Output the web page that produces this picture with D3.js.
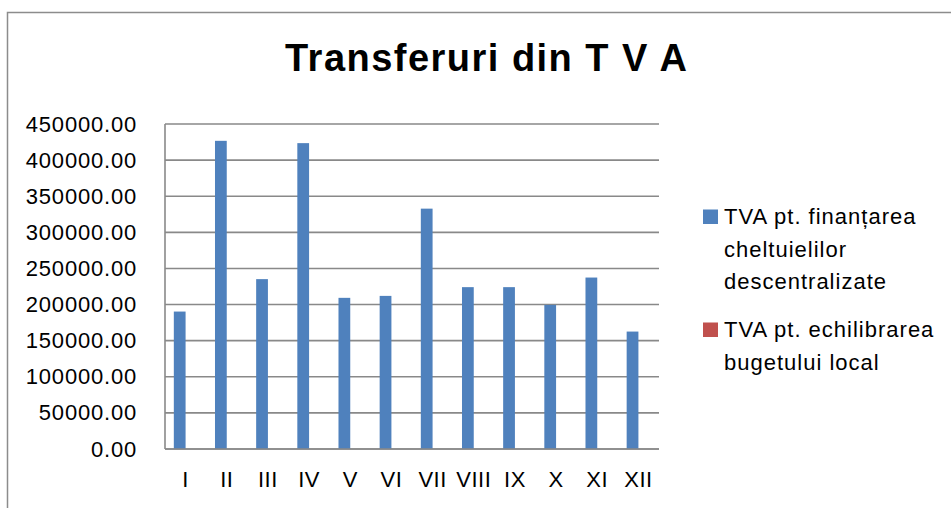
<!DOCTYPE html>
<html>
<head>
<meta charset="utf-8">
<script src="https://cdn.jsdelivr.net/npm/d3@7"></script>
<style>
  html, body { margin: 0; padding: 0; background: #fff; }
  svg { display: block; }
  text { font-family: "Liberation Sans", Arial, sans-serif; fill: #000; }
</style>
</head>
<body>
<svg id="chart" width="951" height="508"></svg>
<script>
// ---- data ----
const title = "Transferuri din T V A";
const months = ["I","II","III","IV","V","VI","VII","VIII","IX","X","XI","XII"];
const tvaFinantare = [190300, 426700, 235200, 423500, 209300, 212000, 332800, 224100, 224100, 199500, 237400, 162600];
const tvaEchilibrare = [0, 0, 0, 0, 0, 0, 0, 0, 0, 0, 0, 0];
const yTicks = [0, 50000, 100000, 150000, 200000, 250000, 300000, 350000, 400000, 450000];
const seriesNames = [
  ["TVA pt. finanțarea", "cheltuielilor", "descentralizate"],
  ["TVA pt. echilibrarea", "bugetului local"]
];
const seriesColors = ["#4F81BD", "#C0504D"];

// ---- layout ----
const svg = d3.select("#chart");
const plot = { left: 165, right: 659, top: 124, bottom: 449 };
const gridColor = "#898989";

// chart border (extends beyond right/bottom)
svg.append("rect")
  .attr("x", 7.5).attr("y", 12.5)
  .attr("width", 1000).attr("height", 600)
  .attr("fill", "none").attr("stroke", "#8c8c8c").attr("stroke-width", 1.5);

// title
svg.append("text")
  .attr("x", 285).attr("y", 71)
  .attr("font-size", 38).attr("font-weight", "bold")
  .attr("textLength", 402).attr("lengthAdjust", "spacing")
  .text(title);

const x = d3.scaleBand().domain(months).range([plot.left, plot.right]).paddingInner(0).paddingOuter(0);
const y = d3.scaleLinear().domain([0, 450000]).range([plot.bottom, plot.top]);

// gridlines
svg.append("g").selectAll("line").data(yTicks).join("line")
  .attr("x1", plot.left).attr("x2", plot.right)
  .attr("y1", d => y(d)).attr("y2", d => y(d))
  .attr("stroke", gridColor).attr("stroke-width", 1.6);

// vertical axis line
svg.append("line")
  .attr("x1", plot.left).attr("x2", plot.left)
  .attr("y1", plot.top).attr("y2", plot.bottom)
  .attr("stroke", gridColor).attr("stroke-width", 1.6);

// y axis labels via d3 axis
const yAxis = d3.axisLeft(y).tickValues(yTicks).tickFormat(d3.format(".2f")).tickSize(0).tickPadding(28);
const gy = svg.append("g").attr("transform", `translate(${plot.left},0)`).call(yAxis);
gy.select(".domain").remove();
gy.selectAll("text")
  .attr("font-family", "Liberation Sans, Arial, sans-serif")
  .attr("font-size", 22).attr("fill", "#000")
  .style("letter-spacing", "0.8px");

// x axis labels
const xAxis = d3.axisBottom(x).tickSize(0).tickPadding(22);
const gx = svg.append("g").attr("transform", `translate(0,${plot.bottom})`).call(xAxis);
gx.select(".domain").remove();
gx.selectAll("text")
  .attr("font-family", "Liberation Sans, Arial, sans-serif")
  .attr("font-size", 22).attr("fill", "#000")
  .style("letter-spacing", "0.5px");

// bars (clustered, gap width 150%)
const bw = x.bandwidth() / 3.5;
const sub = d3.scaleBand().domain([0, 1]).range([0.75 * bw, 2.75 * bw]);
const series = [tvaFinantare, tvaEchilibrare];
series.forEach((vals, si) => {
  svg.append("g").selectAll("rect").data(vals).join("rect")
    .attr("x", (d, i) => x(months[i]) + sub(si))
    .attr("width", sub.bandwidth())
    .attr("y", d => y(d))
    .attr("height", d => y(0) - y(d))
    .attr("fill", seriesColors[si]);
});
// redraw zero baseline above bars
svg.append("line")
  .attr("x1", plot.left).attr("x2", plot.right)
  .attr("y1", y(0)).attr("y2", y(0))
  .attr("stroke", gridColor).attr("stroke-width", 1.6);

// legend
const legendTops = [224, 337];
const lg = svg.append("g");
seriesNames.forEach((lines, si) => {
  const base = legendTops[si];
  lg.append("rect")
    .attr("x", 703).attr("y", base - 14.5)
    .attr("width", 15).attr("height", 14.5)
    .attr("fill", seriesColors[si]);
  lines.forEach((ln, li) => {
    lg.append("text")
      .attr("x", 724).attr("y", base + li * 32.5)
      .attr("font-size", 22)
      .style("letter-spacing", "1px")
      .text(ln);
  });
});
</script>
</body>
</html>
